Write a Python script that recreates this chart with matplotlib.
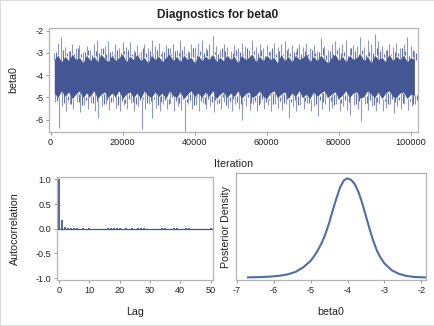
import matplotlib
matplotlib.use("Agg")
import matplotlib.pyplot as plt
from matplotlib.patches import Rectangle

plt.rcParams["font.family"] = ["Liberation Sans", "DejaVu Sans"]
plt.rcParams["axes.unicode_minus"] = False

# --- trace, summarised per 1000-iteration bin ---
# extremes of the draws in each bin
trace_iter = [k * 1000 for k in range(1, 102)]
trace_hi = [-3.0, -2.55, -2.3, -2.75, -2.9, -2.6, -2.8, -2.65, -2.95, -2.7,
            -2.85, -2.6, -2.4, -2.8, -2.7, -2.45, -2.9, -2.6, -2.8, -2.5,
            -2.75, -2.5, -2.85, -2.65, -2.9, -2.6, -2.8, -2.4, -2.7, -2.55,
            -2.9, -2.65, -2.8, -2.6, -2.85, -2.4, -2.7, -2.9, -2.6, -2.75,
            -2.55, -2.4, -2.8, -2.6, -2.25, -2.7, -2.85, -2.6, -2.75, -2.9,
            -2.65, -2.8, -2.55, -2.7, -2.85, -2.4, -2.75, -2.6, -2.8, -2.65,
            -2.9, -2.55, -2.75, -2.6, -2.45, -2.8, -2.65, -2.9, -2.6, -2.75,
            -2.55, -2.8, -2.65, -2.9, -2.35, -2.7, -2.85, -2.6, -2.45, -2.75,
            -2.6, -2.4, -2.8, -2.65, -2.7, -2.3, -2.75, -2.4, -2.6, -2.15,
            -2.45, -2.7, -2.85, -2.6, -2.75, -2.55, -2.8, -2.6, -2.3, -2.7,
            -2.9]
trace_lo = [-5.2, -6.35, -5.4, -5.6, -5.3, -5.5, -5.2, -5.65, -5.35, -5.5,
            -5.25, -5.6, -5.9, -5.4, -5.3, -5.55, -5.2, -5.45, -5.6, -5.35,
            -5.5, -5.25, -5.6, -5.4, -6.4, -5.5, -5.3, -5.9, -5.45, -5.6,
            -5.3, -5.5, -5.25, -5.6, -5.4, -5.55, -6.5, -5.3, -5.5, -5.35,
            -5.6, -5.25, -5.5, -5.4, -5.65, -5.3, -5.5, -5.2, -5.45, -5.6,
            -5.3, -5.5, -6.0, -5.4, -5.55, -5.3, -5.6, -5.25, -5.5, -5.35,
            -5.6, -5.3, -5.45, -5.55, -5.3, -5.9, -5.4, -5.6, -5.35, -5.5,
            -5.25, -5.6, -5.4, -5.85, -5.5, -5.3, -5.6, -5.45, -5.3, -5.6,
            -5.4, -5.55, -5.8, -5.35, -5.5, -6.05, -5.3, -5.55, -5.4, -5.6,
            -5.3, -5.6, -5.45, -5.3, -5.7, -5.4, -5.5, -5.3, -5.55, -5.4,
            -5.3]
# second-largest excursions in each bin
mid_hi = [-2.95, -3.1, -2.85, -3.0, -2.9, -3.15, -2.8, -3.05, -2.95, -2.85,
          -3.1, -2.9, -3.0, -2.8, -3.05, -2.95, -3.15, -2.85, -3.0, -2.9,
          -2.85, -3.05, -2.95, -3.1, -2.8, -3.0, -2.9, -3.15, -2.85, -3.05,
          -2.95, -2.8, -3.1, -2.9, -3.0, -2.85, -3.05, -2.95, -2.8, -3.1,
          -2.9, -3.0, -2.85, -3.15, -2.95, -3.05, -2.8, -2.9, -3.1, -3.0,
          -2.85, -2.95, -3.05, -2.8, -3.1, -2.9, -3.0, -2.85, -3.15, -2.95,
          -2.8, -3.05, -2.9, -3.1, -2.85, -3.0, -2.95, -2.8, -3.05, -2.9,
          -3.15, -2.85, -3.0, -2.95, -2.8, -3.1, -2.9, -3.05, -2.85, -3.0,
          -2.95, -3.15, -2.8, -2.9, -3.05, -2.85, -3.1, -2.95, -3.0, -2.8,
          -2.9, -3.05, -2.85, -3.1, -2.95, -3.0, -2.8, -2.9, -3.15, -2.85,
          -3.0]
mid_lo = [-5.15, -5.0, -5.25, -5.1, -5.3, -5.05, -5.2, -5.35, -5.1, -5.0,
          -5.25, -5.15, -5.05, -5.3, -5.1, -5.2, -5.0, -5.35, -5.15, -5.25,
          -5.05, -5.2, -5.3, -5.1, -5.0, -5.25, -5.15, -5.05, -5.35, -5.2,
          -5.1, -5.3, -5.0, -5.15, -5.25, -5.05, -5.2, -5.1, -5.35, -5.0,
          -5.15, -5.3, -5.05, -5.2, -5.1, -5.25, -5.0, -5.35, -5.15, -5.05,
          -5.2, -5.3, -5.1, -5.0, -5.25, -5.15, -5.35, -5.05, -5.2, -5.1,
          -5.3, -5.0, -5.15, -5.25, -5.05, -5.2, -5.1, -5.35, -5.0, -5.15,
          -5.25, -5.05, -5.3, -5.1, -5.2, -5.0, -5.15, -5.35, -5.05, -5.25,
          -5.1, -5.2, -5.0, -5.3, -5.15, -5.05, -5.25, -5.1, -5.35, -5.2,
          -5.0, -5.15, -5.3, -5.05, -5.2, -5.1, -5.25, -5.0, -5.15, -5.3,
          -5.1]
# range that is filled solid by the overlapping draws
core_hi = [-3.3, -3.1, -3.4, -3.15, -3.35, -3.05, -3.3, -3.2, -3.45, -3.1,
           -3.35, -3.15, -3.4, -3.05, -3.25, -3.4, -3.1, -3.35, -3.2, -3.05,
           -3.4, -3.15, -3.3, -3.05, -3.35, -3.2, -3.45, -3.1, -3.3, -3.15,
           -3.4, -3.2, -3.05, -3.35, -3.15, -3.4, -3.1, -3.3, -3.2, -3.45,
           -3.1, -3.35, -3.15, -3.3, -3.05, -3.4, -3.2, -3.35, -3.1, -3.3,
           -3.15, -3.45, -3.1, -3.3, -3.2, -3.05, -3.4, -3.15, -3.35, -3.1,
           -3.3, -3.2, -3.45, -3.05, -3.35, -3.15, -3.4, -3.1, -3.3, -3.2,
           -3.05, -3.4, -3.15, -3.35, -3.1, -3.3, -3.45, -3.2, -3.05, -3.35,
           -3.15, -3.4, -3.1, -3.3, -3.2, -3.05, -3.35, -3.15, -3.45, -3.1,
           -3.3, -3.2, -3.4, -3.05, -3.35, -3.15, -3.3, -3.1, -3.4, -3.2,
           -3.3]
core_lo = [-4.8, -5.0, -4.7, -4.95, -4.75, -5.05, -4.85, -4.7, -5.0, -4.8,
           -4.95, -4.7, -5.05, -4.85, -4.75, -5.0, -4.8, -4.95, -4.7, -5.05,
           -4.85, -4.75, -5.0, -4.8, -5.05, -4.7, -4.9, -5.0, -4.75, -4.95,
           -4.8, -5.05, -4.7, -4.9, -5.0, -4.75, -5.05, -4.85, -4.7, -4.95,
           -4.8, -5.0, -4.75, -4.95, -4.7, -5.05, -4.85, -4.75, -5.0, -4.8,
           -4.95, -4.7, -5.05, -4.85, -4.75, -5.0, -4.9, -4.7, -4.95, -5.05,
           -4.8, -4.7, -5.0, -4.85, -4.75, -5.05, -4.8, -4.95, -4.7, -5.0,
           -4.85, -5.05, -4.75, -4.95, -4.8, -4.7, -5.0, -4.85, -4.75, -5.05,
           -4.9, -4.7, -5.0, -4.8, -4.75, -5.05, -4.95, -4.7, -4.85, -5.0,
           -4.75, -5.05, -4.8, -4.7, -4.95, -5.0, -4.8, -4.75, -5.05, -4.85,
           -4.9]

# --- autocorrelation, lags 0..50 ---
acf_lag = list(range(51))
acf_val = [1.0, 0.185, 0.045, 0.01, 0.006, 0.012, 0.008, 0.004, 0.01, 0.002,
           0.009, 0.001, -0.002, 0.0, 0.002, -0.001, 0.008, 0.01, 0.009, 0.007,
           0.01, 0.002, 0.008, 0.001, 0.009, 0.003, 0.008, 0.009, 0.007, 0.001,
           -0.008, 0.003, 0.001, 0.002, 0.007, 0.009, 0.001, 0.0, 0.012, 0.008,
           0.002, 0.001, 0.008, 0.011, 0.004, 0.0, 0.001, 0.002, 0.0, 0.001,
           0.01]

# --- posterior density (relative height) ---
dens_x = [-6.7, -6.4, -6.1, -5.8, -5.6, -5.4, -5.2, -5.0, -4.9, -4.8, -4.7,
          -4.6, -4.5, -4.4, -4.3, -4.2, -4.1, -4.0, -3.9, -3.8, -3.7, -3.6,
          -3.5, -3.4, -3.3, -3.2, -3.1, -3.0, -2.8, -2.6, -2.4, -2.2, -1.9]
dens_y = [0.004, 0.006, 0.011, 0.022, 0.036, 0.060, 0.105, 0.17, 0.22, 0.28,
          0.35, 0.44, 0.55, 0.68, 0.80, 0.91, 0.98, 1.0, 0.985, 0.94, 0.86,
          0.75, 0.62, 0.49, 0.37, 0.27, 0.20, 0.145, 0.075, 0.038, 0.018,
          0.008, 0.003]

LINE = "#445694"
FRAME = "#b4b4b4"
TXT = "#222222"

fig = plt.figure(figsize=(4.35, 3.26), dpi=100)
fig.patches.append(Rectangle((0, 0), 1, 1, transform=fig.transFigure,
                             fill=False, edgecolor="#d4d4d4", linewidth=1.2))


def style(ax):
    for s in ax.spines.values():
        s.set_color(FRAME)
        s.set_linewidth(0.9)
    ax.tick_params(direction="out", length=2.5, width=0.7, color="#999999",
                   labelsize=6.6, labelcolor=TXT, pad=1.5)


def shift(xs, d):
    return [x + d for x in xs]


ax1 = fig.add_axes([0.1126, 0.5951, 0.8483, 0.3190])
ax1.fill_between(trace_iter, core_lo, core_hi, color=LINE, linewidth=0)
ax1.vlines(shift(trace_iter, 500), core_hi, mid_hi, color=LINE, alpha=0.85,
           linewidth=0.8)
ax1.vlines(shift(trace_iter, 750), core_lo, mid_lo, color=LINE, alpha=0.85,
           linewidth=0.8)
ax1.vlines(trace_iter, core_hi, trace_hi, color=LINE, alpha=0.6, linewidth=0.8)
ax1.vlines(shift(trace_iter, 250), core_lo, trace_lo, color=LINE, alpha=0.6,
           linewidth=0.8)
ax1.set_xlim(-470, 102000)
ax1.set_ylim(-6.55, -1.88)
ax1.set_xticks([0, 20000, 40000, 60000, 80000, 100000])
ax1.set_yticks([-6, -5, -4, -3, -2])
ax1.set_xlabel("Iteration", fontsize=7.7, color=TXT)
ax1.set_ylabel("beta0", fontsize=7.7, color=TXT)
ax1.xaxis.set_label_coords(0.5, -0.31)
ax1.yaxis.set_label_coords(-0.098, 0.5)
ax1.xaxis.label.set_va("center")
ax1.yaxis.label.set_va("center")
style(ax1)

ax2 = fig.add_axes([0.1310, 0.1411, 0.3586, 0.3160])
ax2.axhline(0, color=LINE, linewidth=0.9)
ax2.vlines(acf_lag, 0, acf_val, color=LINE, linewidth=1.3)
ax2.set_xlim(-0.7, 50.8)
ax2.set_ylim(-1.04, 1.05)
ax2.set_xticks([0, 10, 20, 30, 40, 50])
ax2.set_yticks([-1.0, -0.5, 0.0, 0.5, 1.0])
ax2.set_yticklabels(["-1.0", "-0.5", "0.0", "0.5", "1.0"])
ax2.set_xlabel("Lag", fontsize=7.7, color=TXT)
ax2.set_ylabel("Autocorrelation", fontsize=7.7, color=TXT)
ax2.xaxis.set_label_coords(0.5, -0.31)
ax2.yaxis.set_label_coords(-0.27, 0.5)
ax2.xaxis.label.set_va("center")
ax2.yaxis.label.set_va("center")
style(ax2)

ax3 = fig.add_axes([0.5414, 0.1411, 0.4379, 0.3282])
ax3.plot(dens_x, dens_y, color="#4e6ea8", linewidth=1.5)
ax3.set_xlim(-7.04, -1.87)
ax3.set_ylim(-0.023, 1.054)
ax3.set_xticks([-7, -6, -5, -4, -3, -2])
ax3.set_yticks([])
ax3.set_xlabel("beta0", fontsize=7.7, color=TXT)
ax3.set_ylabel("Posterior Density", fontsize=7.7, color=TXT)
ax3.xaxis.set_label_coords(0.5, -0.296)
ax3.yaxis.set_label_coords(-0.05, 0.5)
ax3.xaxis.label.set_va("center")
ax3.yaxis.label.set_va("center")
style(ax3)

fig.text(0.5, 1 - 15 / 326, "Diagnostics for beta0", ha="center", va="center",
         fontsize=8.6, fontweight="bold", color=TXT)

fig.savefig("out.png", dpi=100)
